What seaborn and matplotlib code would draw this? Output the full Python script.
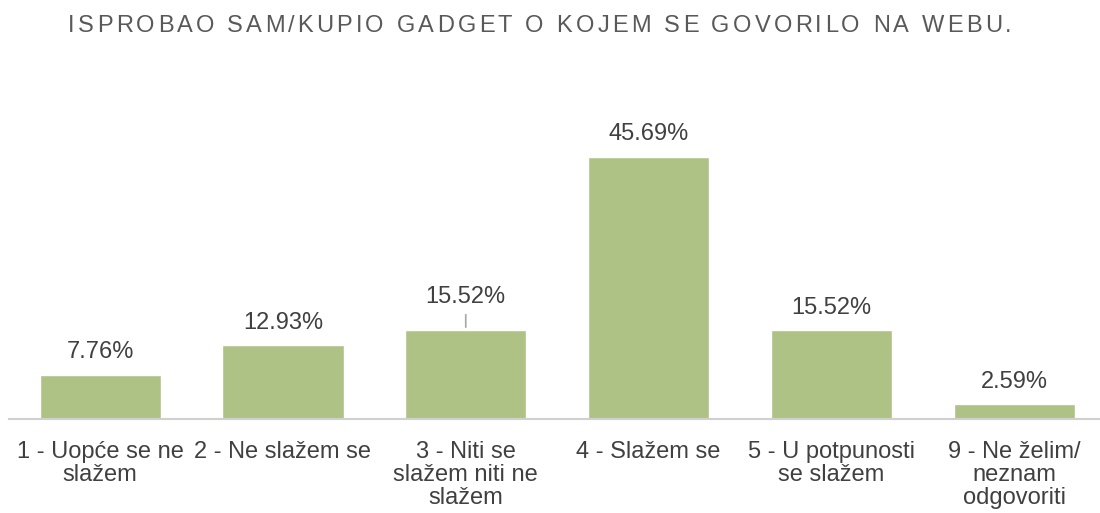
import matplotlib
matplotlib.use("Agg")
import matplotlib.pyplot as plt
import seaborn as sns
from matplotlib.textpath import TextPath
from matplotlib.font_manager import FontProperties

# podaci s grafa
kategorije = ["1 - Uopće se ne\nslažem", "2 - Ne slažem se", "3 - Niti se\nslažem niti ne\nslažem",
              "4 - Slažem se", "5 - U potpunosti\nse slažem", "9 - Ne želim/\nneznam\nodgovoriti"]
postoci = [7.76, 12.93, 15.52, 45.69, 15.52, 2.59]
oznake = ["7.76%", "12.93%", "15.52%", "45.69%", "15.52%", "2.59%"]
naslov = "ISPROBAO SAM/KUPIO GADGET O KOJEM SE GOVORILO NA WEBU."

sns.set_theme(style="white")
plt.rcParams['font.family'] = ['Liberation Sans', 'DejaVu Sans']

fig = plt.figure(figsize=(11, 5.13), dpi=100)
ax = fig.add_axes([0.008, 0.183, 0.992, 0.56])

sns.barplot(x=list(range(len(postoci))), y=postoci, color="#AEC285", saturation=1,
            width=0.663, ax=ax)

ax.set_xlim(-0.5, 5.47)
ax.set_ylim(0, 50)
ax.set_yticks([])
for s in ["top", "left", "right"]:
    ax.spines[s].set_visible(False)
ax.spines["bottom"].set_color("#D0D0D0")
ax.spines["bottom"].set_linewidth(1.5)

ax.set_xticks(range(len(kategorije)))
ax.set_xticklabels(kategorije, fontsize=17, color="#404040", linespacing=1.04)
ax.tick_params(axis="x", length=0, pad=16)

for i, (v, t) in enumerate(zip(postoci, oznake)):
    pomak = 8
    if i == 2:
        # oznaka podignuta s linijom vodilicom
        pomak = 16
        ax.annotate("", xy=(i, v), xytext=(0, 13), textcoords="offset points",
                    arrowprops=dict(arrowstyle="-", color="#A6A6A6", lw=1.2))
    ax.annotate(t, xy=(i, v), xytext=(0, pomak), textcoords="offset points",
                ha="center", va="bottom", fontsize=17, color="#404040")

# naslov s razmakom izmedu slova
fp = FontProperties(family="Liberation Sans", size=17)
razmak = 3.2  # px
px = 100 / 72.0
sirine = []
for c in naslov:
    tp = TextPath((0, 0), c + "|", prop=fp)
    tb = TextPath((0, 0), "|", prop=fp)
    sirine.append((tp.get_extents().x1 - tb.get_extents().x1) * px)
ukupno = sum(sirine) + razmak * (len(naslov) - 1)
x = (1080 - ukupno) / 2
for c, w in zip(naslov, sirine):
    fig.text(x / 1100, 0.95, c, ha="left", va="center", fontproperties=fp, color="#595959")
    x += w + razmak

fig.savefig("out.png", dpi=100)
